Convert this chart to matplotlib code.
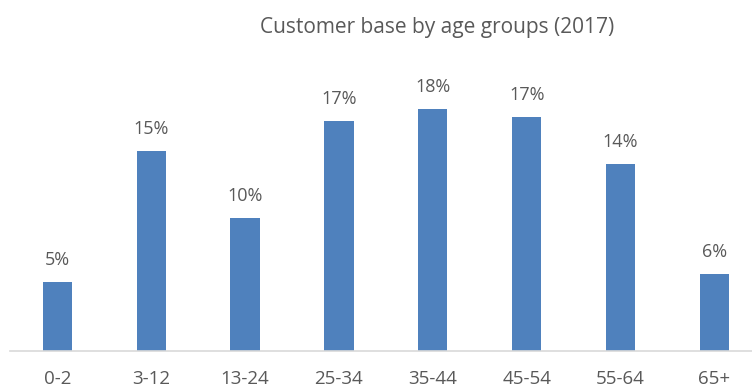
import matplotlib
matplotlib.use("Agg")
import matplotlib.pyplot as plt

categories = ["0-2", "3-12", "13-24", "25-34", "35-44", "45-54", "55-64", "65+"]
values = [5.1, 14.9, 9.9, 17.1, 18.0, 17.4, 13.9, 5.7]
labels = ["5%", "15%", "10%", "17%", "18%", "17%", "14%", "6%"]

plt.rcParams['font.family'] = ['Open Sans', 'DejaVu Sans']
W, H = 752, 387
fig = plt.figure(figsize=(W/100, H/100), dpi=100)
left = 10.3 / W
width = 751.2 / W
bottom = 36 / H
height = (20 * 13.44) / H
ax = fig.add_axes([left, bottom, width, height])
x = list(range(len(categories)))
ax.bar(x, values, width=0.31, color="#4F81BD", zorder=2)
ax.set_xlim(-0.5, 7.5)
ax.set_ylim(0, 20)
for xi, v, lab in zip(x, values, labels):
    ax.annotate(lab, (xi, v), xytext=(0, 9.5), textcoords="offset points",
                ha="center", va="bottom", fontsize=13, color="#595959")
ax.set_xticks(x)
ax.set_xticklabels(categories, fontsize=13.5, color="#595959")
ax.tick_params(axis="x", length=0, pad=14)
ax.set_yticks([])
for s in ["top", "right", "left"]:
    ax.spines[s].set_visible(False)
ax.spines["bottom"].set_color("#D9D9D9")
ax.spines["bottom"].set_linewidth(1.2)
fig.text(437 / W, 1 - 28 / H, "Customer base by age groups (2017)", ha="center", va="center",
         fontsize=15, color="#595959")
fig.savefig("out.png", dpi=100)
